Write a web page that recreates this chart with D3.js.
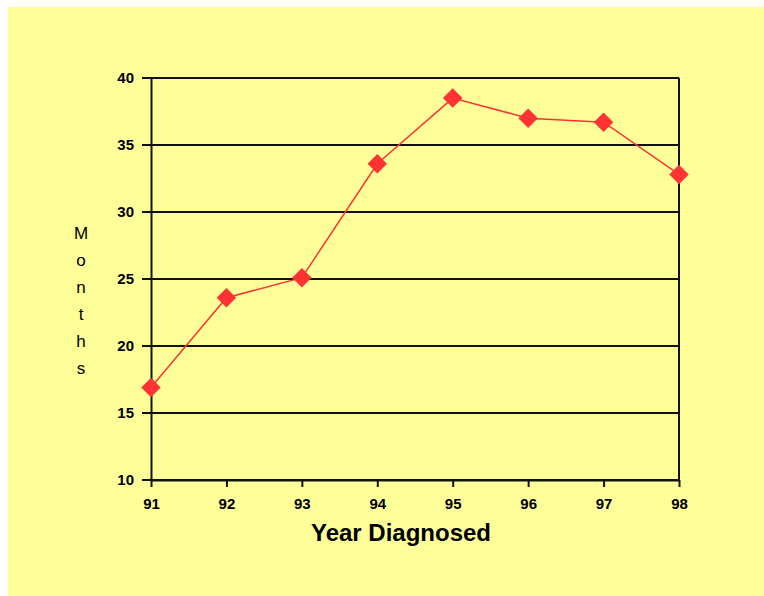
<!DOCTYPE html>
<html>
<head>
<meta charset="utf-8">
<script src="https://cdn.jsdelivr.net/npm/d3@7"></script>
<style>
  html, body { margin: 0; padding: 0; background: #fff; }
  svg { display: block; }
  text { font-family: Arial, "Liberation Sans", sans-serif; fill: #000; }
</style>
</head>
<body>
<svg id="chart"></svg>
<script>
const years = ['91', '92', '93', '94', '95', '96', '97', '98'];
const months = [16.9, 23.6, 25.1, 33.6, 38.5, 37.0, 36.7, 32.8];
const yTicks = [10, 15, 20, 25, 30, 35, 40];
const yLabel = 'Months';
const xLabel = 'Year Diagnosed';

const width = 764, height = 596;
const margin = ({top: 78, right: 85, bottom: 116, left: 151});

const svg = d3.select('#chart')
  .attr('width', width)
  .attr('height', height);

// yellow panel
svg.append('rect')
  .attr('x', 8).attr('y', 7)
  .attr('width', width - 8).attr('height', height - 7)
  .attr('fill', '#ffff99');

const x = d3.scalePoint()
  .domain(years)
  .range([margin.left, width - margin.right]);

const y = d3.scaleLinear()
  .domain([10, 40])
  .range([height - margin.bottom, margin.top]);

// horizontal grid
svg.append('g')
  .selectAll('line')
  .data(yTicks)
  .join('line')
    .attr('x1', margin.left - 9)
    .attr('x2', width - margin.right)
    .attr('y1', d => y(d))
    .attr('y2', d => y(d))
    .attr('stroke', '#111')
    .attr('stroke-width', 2);

// right border
svg.append('line')
  .attr('x1', width - margin.right).attr('x2', width - margin.right)
  .attr('y1', y(40)).attr('y2', y(10))
  .attr('stroke', '#111').attr('stroke-width', 2);

// y axis
const yAxis = svg.append('g')
  .attr('transform', `translate(${margin.left},0)`)
  .call(d3.axisLeft(y).tickValues(yTicks).tickSize(0).tickPadding(17));
yAxis.select('.domain').attr('stroke', '#111').attr('stroke-width', 2);
yAxis.selectAll('text')
  .style('font-size', '15px')
  .style('font-weight', 'bold')
  .style('font-family', 'Arial, "Liberation Sans", sans-serif');

// x axis
const xAxis = svg.append('g')
  .attr('transform', `translate(0,${y(10)})`)
  .call(d3.axisBottom(x).tickSize(7).tickPadding(11).tickSizeOuter(0));
xAxis.select('.domain').attr('stroke', '#111').attr('stroke-width', 2);
xAxis.selectAll('.tick line').attr('stroke', '#111').attr('stroke-width', 2);
xAxis.selectAll('text')
  .style('font-size', '15px')
  .style('font-weight', 'bold')
  .style('font-family', 'Arial, "Liberation Sans", sans-serif');

// series line
const line = d3.line()
  .x((d, i) => x(years[i]))
  .y(d => y(d));

svg.append('path')
  .datum(months)
  .attr('fill', 'none')
  .attr('stroke', '#ff3333')
  .attr('stroke-width', 1.5)
  .attr('d', line);

// diamond markers
svg.append('g')
  .selectAll('path')
  .data(months)
  .join('path')
    .attr('transform', (d, i) => `translate(${x(years[i])},${y(d)}) rotate(45)`)
    .attr('d', d3.symbol(d3.symbolSquare, 190))
    .attr('fill', '#ff3333');

// y label, stacked letters
svg.append('g')
  .selectAll('text')
  .data(yLabel.split(''))
  .join('text')
    .attr('x', 81)
    .attr('y', (d, i) => 239 + i * 27)
    .attr('text-anchor', 'middle')
    .style('font-size', '17px')
    .text(d => d);

svg.append('text')
  .attr('x', 401)
  .attr('y', 541)
  .attr('text-anchor', 'middle')
  .style('font-size', '24px')
  .style('font-weight', 'bold')
  .text(xLabel);
</script>
</body>
</html>
